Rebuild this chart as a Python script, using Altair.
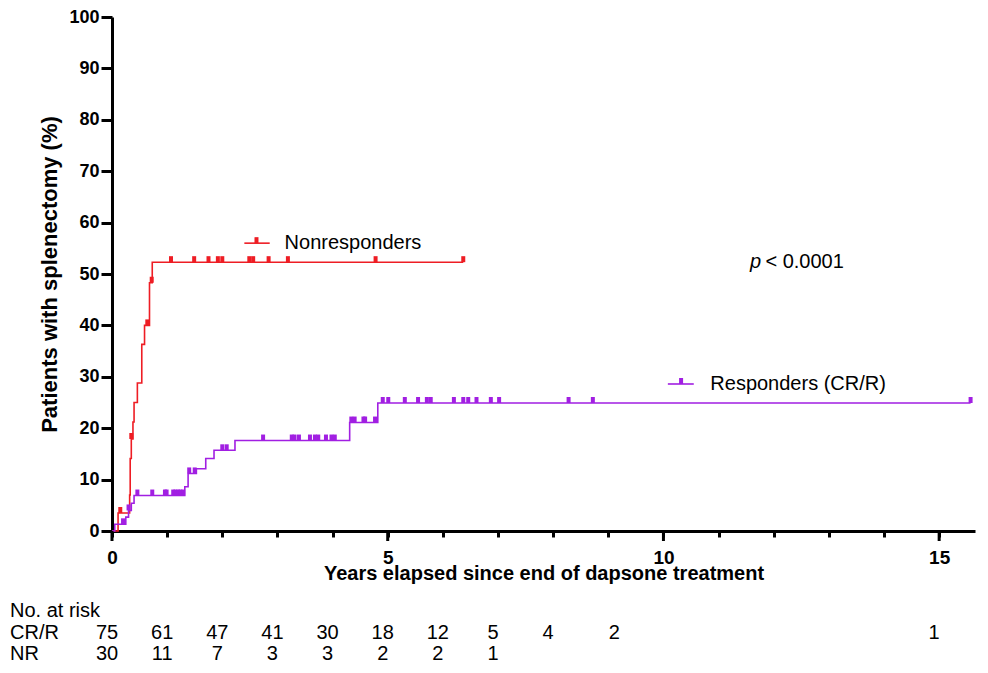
import altair as alt
import pandas as pd

# ---------------- data ----------------
groups = ["Nonresponders", "Responders (CR/R)"]

# cumulative incidence step curves (years, %)
nr_time = [0, 0.11, 0.32, 0.33, 0.35, 0.38, 0.40, 0.46, 0.54, 0.59, 0.68, 0.73, 6.37]
nr_pct = [0, 3.5, 7.0, 14.1, 17.9, 21.2, 25.0, 28.8, 36.3, 40.0, 48.3, 52.3, 52.3]

r_time = [0, 0.05, 0.25, 0.30, 0.35, 0.40, 1.32, 1.38, 1.53, 1.70, 1.85, 2.23, 4.31, 4.82, 15.57]
r_pct = [0, 1.3, 2.7, 4.0, 5.4, 6.9, 8.6, 11.2, 12.1, 14.1, 15.7, 17.6, 21.1, 24.9, 24.9]

# censored observations (years, %)
nr_cens_time = [0.15, 0.35, 0.64, 0.72, 1.07, 1.49, 1.75, 1.92, 2.00, 2.49, 2.56,
                2.84, 3.19, 4.78, 6.37]
nr_cens_pct = [3.5, 17.9, 40.0, 48.3, 52.3, 52.3, 52.3, 52.3, 52.3, 52.3, 52.3,
               52.3, 52.3, 52.3, 52.3]

r_cens_time = [0.20, 0.30, 0.46, 0.73, 0.96, 0.99, 1.11, 1.15, 1.20, 1.24, 1.29,
               1.40, 1.50, 2.00, 2.08,
               2.74, 3.26, 3.31, 3.39, 3.59, 3.68, 3.74, 3.88, 3.98, 4.04,
               4.34, 4.40, 4.56, 4.59, 4.77,
               4.91, 5.01, 5.31, 5.55, 5.71, 5.78, 6.20, 6.37, 6.46, 6.61, 6.87,
               7.02, 8.28, 8.72, 15.57]
r_cens_pct = [1.3, 4.0, 6.9, 6.9, 6.9, 6.9, 6.9, 6.9, 6.9, 6.9, 6.9,
              11.2, 11.2, 15.7, 15.7,
              17.6, 17.6, 17.6, 17.6, 17.6, 17.6, 17.6, 17.6, 17.6, 17.6,
              21.1, 21.1, 21.1, 21.1, 21.1,
              24.9, 24.9, 24.9, 24.9, 24.9, 24.9, 24.9, 24.9, 24.9, 24.9, 24.9,
              24.9, 24.9, 24.9, 24.9]

# numbers at risk
risk_crr_time = [0, 1, 2, 3, 4, 5, 6, 7, 8, 9.2, 15]
risk_crr = ["75", "61", "47", "41", "30", "18", "12", "5", "4", "2", "1"]
risk_nr_time = [0, 1, 2, 3, 4, 5, 6, 7]
risk_nr = ["30", "11", "7", "3", "3", "2", "2", "1"]

# axis ticks
x_ticks = list(range(16))
x_major = [0, 5, 10, 15]
y_ticks = list(range(0, 101, 10))

# in-plot legend / annotation anchors (data units)
leg_x0 = [2.40, 10.08]
leg_x1 = [2.86, 10.55]
leg_mark = [2.62, 10.32]
leg_text_x = [3.13, 10.85]
leg_y = [56.0, 28.6]

# ---------------- tables ----------------
curve = pd.DataFrame({
    "group": [groups[0]] * len(nr_time) + [groups[1]] * len(r_time),
    "time": nr_time + r_time,
    "pct": nr_pct + r_pct,
})
cens = pd.DataFrame({
    "group": [groups[0]] * len(nr_cens_time) + [groups[1]] * len(r_cens_time),
    "time": nr_cens_time + r_cens_time,
    "pct": nr_cens_pct + r_cens_pct,
})
legend_df = pd.DataFrame({"group": groups, "x0": leg_x0, "x1": leg_x1,
                          "xm": leg_mark, "xt": leg_text_x, "y": leg_y})
risk_crr_df = pd.DataFrame({"time": risk_crr_time, "n": risk_crr})
risk_nr_df = pd.DataFrame({"time": risk_nr_time, "n": risk_nr})
major_df = pd.DataFrame({"time": x_major})

FONT = "Liberation Sans"
RED = "#EE1D24"
PURPLE = "#A11FE2"
W, H = 863, 514
X_TITLE = "Years elapsed since end of dapsone treatment"
Y_TITLE = "Patients with splenectomy (%)"

xscale = alt.Scale(domain=[0, 15.65], nice=False, zero=False)
yscale = alt.Scale(domain=[0, 100], nice=False)
color = alt.Color("group:N", scale=alt.Scale(domain=groups, range=[RED, PURPLE]), legend=None)

x_axis = alt.Axis(values=x_ticks, tickSize=6, tickWidth=3, tickColor="black",
                  domainColor="black", domainWidth=3, labelFlush=False,
                  labelExpr="datum.value % 5 == 0 ? datum.label : ''",
                  labelFont=FONT, labelFontSize=19, labelFontWeight="bold",
                  labelColor="black", labelPadding=11,
                  titleFont=FONT, titleFontSize=20, titleFontWeight="bold",
                  titleColor="black", titlePadding=-4, grid=False)
y_axis = alt.Axis(values=y_ticks, tickSize=11, tickWidth=3,
                  tickColor="black", domainColor="black", domainWidth=3,
                  labelFont=FONT, labelFontSize=18, labelFontWeight="bold",
                  labelColor="black", labelPadding=2,
                  titleFont=FONT, titleFontSize=22, titleFontWeight="bold",
                  titleColor="black", titlePadding=7, grid=False)


def xe(field):
    return alt.X(field, scale=xscale, axis=x_axis, title=X_TITLE)


def ye(field):
    return alt.Y(field, scale=yscale, axis=y_axis, title=Y_TITLE)


lines = alt.Chart(curve).mark_line(interpolate="step-after", strokeWidth=1.6).encode(
    x=xe("time:Q"), y=ye("pct:Q"), color=color, detail="group:N",
)

ticks = alt.Chart(cens).mark_tick(orient="vertical", size=6, thickness=4, yOffset=-3,
                                  opacity=1).encode(
    x=xe("time:Q"), y=ye("pct:Q"), color=color,
)

# longer ticks at the labelled years
major = alt.Chart(major_df).mark_rule(color="black", strokeWidth=3).encode(
    x=xe("time:Q"), y=alt.value(H), y2=alt.value(H + 10),
)

leg_rule = alt.Chart(legend_df).mark_rule(strokeWidth=1.6).encode(
    x=xe("x0:Q"), x2="x1:Q", y=ye("y:Q"), color=color,
)
leg_tick = alt.Chart(legend_df).mark_tick(orient="vertical", size=6, thickness=4, yOffset=-3,
                                          opacity=1).encode(
    x=xe("xm:Q"), y=ye("y:Q"), color=color,
)
leg_text = alt.Chart(legend_df).mark_text(align="left", baseline="middle", font=FONT,
                                          fontSize=20, color="black").encode(
    x=xe("xt:Q"), y=ye("y:Q"), text="group:N",
)

p_df = pd.DataFrame({"x": [11.57], "x2": [11.85], "y": [52.4], "p": ["p"], "rest": ["< 0.0001"]})
p_italic = alt.Chart(p_df).mark_text(align="left", baseline="middle", font=FONT, fontSize=20,
                                     fontStyle="italic", color="black").encode(
    x=xe("x:Q"), y=ye("y:Q"), text="p:N",
)
p_rest = alt.Chart(p_df).mark_text(align="left", baseline="middle", font=FONT, fontSize=20,
                                   color="black").encode(
    x=xe("x2:Q"), y=ye("y:Q"), text="rest:N",
)

risk_kw = dict(align="center", baseline="alphabetic", font=FONT, fontSize=20, color="black", dx=-5)
risk1 = alt.Chart(risk_crr_df).mark_text(**risk_kw).encode(
    x=xe("time:Q"), y=alt.value(622), text="n:N",
)
risk2 = alt.Chart(risk_nr_df).mark_text(**risk_kw).encode(
    x=xe("time:Q"), y=alt.value(643), text="n:N",
)
row_df = pd.DataFrame({"label": ["No. at risk", "CR/R", "NR"], "row": [0, 1, 2]})
row_lbl_kw = dict(align="left", baseline="alphabetic", font=FONT, fontSize=20, color="black")
row0 = alt.Chart(row_df).transform_filter("datum.row == 0").mark_text(**row_lbl_kw).encode(
    x=alt.value(-102), y=alt.value(600), text="label:N")
row1 = alt.Chart(row_df).transform_filter("datum.row == 1").mark_text(**row_lbl_kw).encode(
    x=alt.value(-102), y=alt.value(622), text="label:N")
row2 = alt.Chart(row_df).transform_filter("datum.row == 2").mark_text(**row_lbl_kw).encode(
    x=alt.value(-102), y=alt.value(643), text="label:N")

chart = alt.layer(
    lines, ticks, major, leg_rule, leg_tick, leg_text, p_italic, p_rest,
    risk1, risk2, row0, row1, row2
).properties(
    width=W, height=H,
    autosize=alt.AutoSizeParams(type="none"),
    padding={"left": 104, "top": 9, "right": 5, "bottom": 134},
).configure_view(strokeWidth=0)

chart.save("out.html", embed_options={"renderer": "svg", "actions": False})
